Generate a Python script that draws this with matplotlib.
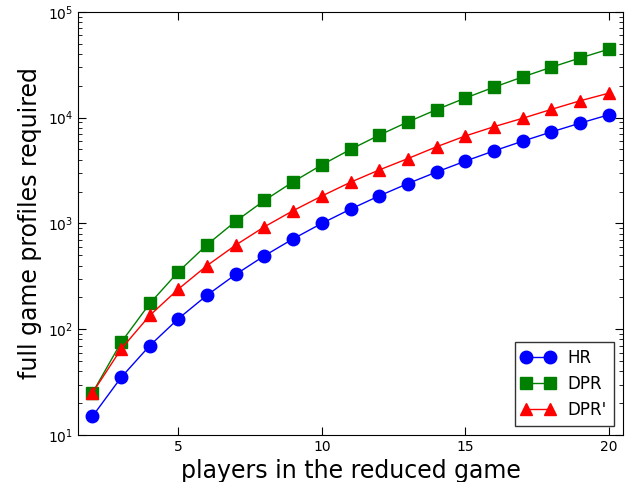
import numpy as np
from matplotlib import pyplot as plt

# reduced game sizes and number of full-game profiles each reduction needs
players = np.arange(2, 21)
hr = [15, 35, 70, 126, 210, 330, 495, 715, 1001, 1365, 1820, 2380, 3060,
      3876, 4845, 5985, 7315, 8855, 10626]
dpr = [25, 75, 175, 350, 630, 1050, 1650, 2475, 3575, 5005, 6825, 9100,
       11900, 15300, 19380, 24225, 29925, 36575, 44275]
dpr_prime = [25, 65, 135, 240, 400, 625, 930, 1320, 1815, 2450, 3200, 4100,
             5300, 6700, 8200, 9850, 11950, 14400, 17000]

plt.rcParams['xtick.direction'] = 'in'
plt.rcParams['ytick.direction'] = 'in'
plt.rcParams['xtick.top'] = True
plt.rcParams['ytick.right'] = True

fig = plt.figure(figsize=(6.35, 4.82), dpi=100)
ax = fig.add_axes([0.123, 0.0975, 0.858, 0.878])

ax.plot(players, hr, 'b-o', lw=1, ms=9, label='HR')
ax.plot(players, dpr, 'g-s', lw=1, ms=9, label='DPR')
ax.plot(players, dpr_prime, 'r-^', lw=1, ms=9, label="DPR'")

ax.set_yscale('log')
ax.set_ylim(10, 1e5)
ax.set_xlim(1.5, 20.5)
ax.set_xticks([5, 10, 15, 20])
ax.tick_params(which='major', length=6, labelsize=10)
ax.tick_params(which='minor', length=3)

ax.set_xlabel('players in the reduced game', fontsize=17)
ax.set_ylabel('full game profiles required', fontsize=17)

leg = ax.legend(loc='lower right', numpoints=2, fancybox=False, fontsize=12,
                handlelength=2.0, borderaxespad=0.55)
leg.get_frame().set_edgecolor('black')

fig.savefig('out.png', dpi=100)
